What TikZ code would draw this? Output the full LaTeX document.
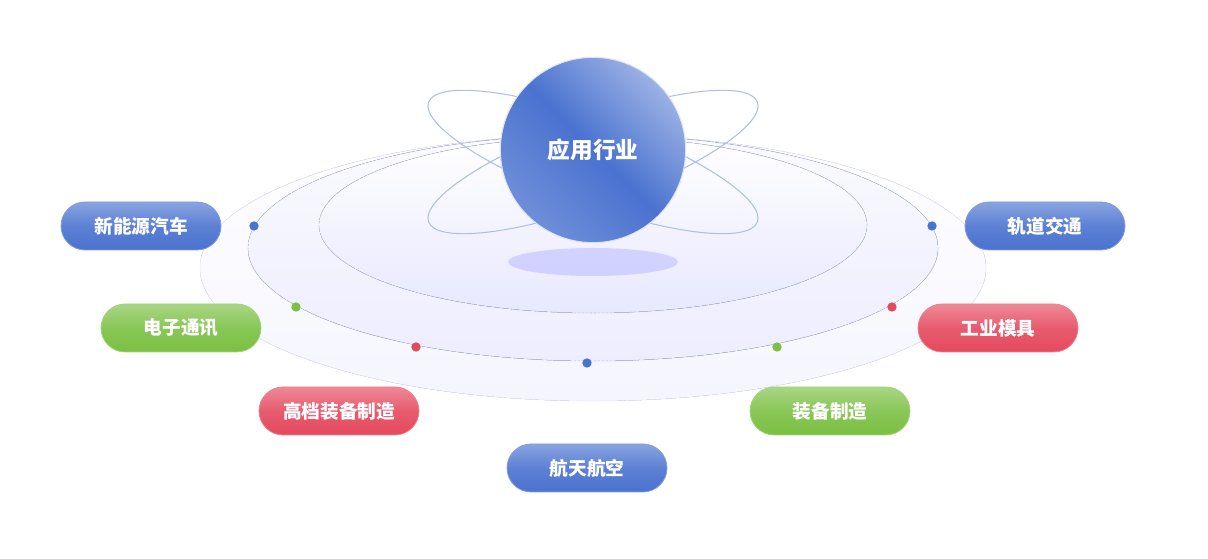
\documentclass[tikz,border=0pt]{standalone}
\usepackage{fontspec}
\newfontfamily\cjk{Noto Sans CJK SC}
\usetikzlibrary{shadings}
\definecolor{cblue}{HTML}{4A72CF}
\definecolor{cgreen}{HTML}{7BC043}
\definecolor{cred}{HTML}{E5495E}
\definecolor{ring}{HTML}{AFC0E6}
\begin{document}
\begin{tikzpicture}[x=0.75pt,y=-0.75pt,
  pill/.style={rounded corners=18pt,minimum width=120pt,minimum height=36pt,text=white,font=\cjk\bfseries\fontsize{14}{16}\selectfont,draw=#1!70!white,line width=0.6pt,top color=#1!65!white,bottom color=#1,middle color=#1!90!white},
  dot/.style={circle,fill=#1,inner sep=0pt,minimum size=7pt}]
\useasboundingbox (0,0) rectangle (1208,559);
\fill[top color=white,bottom color=blue!4] (593,268) ellipse [x radius=393,y radius=133];
\draw[blue!8] (593,268) ellipse [x radius=393,y radius=133];
\fill[top color=blue!2,bottom color=blue!7] (593,248) ellipse [x radius=345,y radius=113];
\draw[ring,dashed,dash pattern=on 2pt off 1pt] (593,248) ellipse [x radius=345,y radius=113];
\fill[top color=white,bottom color=blue!9] (593,225) ellipse [x radius=274,y radius=88];
\draw[ring,dashed,dash pattern=on 2pt off 1pt] (593,225) ellipse [x radius=274,y radius=88];
\fill[blue!25!white,opacity=0.6] (593,262) ellipse [x radius=85,y radius=14];
\draw[ring,line width=0.8pt,rotate around={20:(593,162)}] (593,162) ellipse [x radius=175,y radius=42];
\draw[ring,line width=0.8pt,rotate around={-20:(593,162)}] (593,162) ellipse [x radius=175,y radius=42];
\node[circle,minimum size=139pt,inner sep=0pt,draw=white!80!cblue,line width=0.8pt,
  shading=axis,left color=cblue!55!white,right color=cblue!80!white,middle color=cblue,shading angle=-45,
  text=white,font=\cjk\bfseries\fontsize{17}{20}\selectfont] (core) at (593,150) {应用行业};
\node[dot=cblue] (d1) at (254,226) {};
\node[dot=cgreen] (d2) at (296,307) {};
\node[dot=cred] (d3) at (416,347) {};
\node[dot=cblue] (d4) at (587,363) {};
\node[dot=cgreen] (d5) at (777,347) {};
\node[dot=cred] (d6) at (892,307) {};
\node[dot=cblue] (d7) at (932,226) {};
\node[pill=cblue] (p1) at (141,226) {新能源汽车};
\node[pill=cgreen] (p2) at (181,328) {电子通讯};
\node[pill=cred] (p3) at (339,411) {高档装备制造};
\node[pill=cblue] (p4) at (587,468) {航天航空};
\node[pill=cgreen] (p5) at (830,411) {装备制造};
\node[pill=cred] (p6) at (998,328) {工业模具};
\node[pill=cblue] (p7) at (1045,226) {轨道交通};
\end{tikzpicture}
\end{document}
